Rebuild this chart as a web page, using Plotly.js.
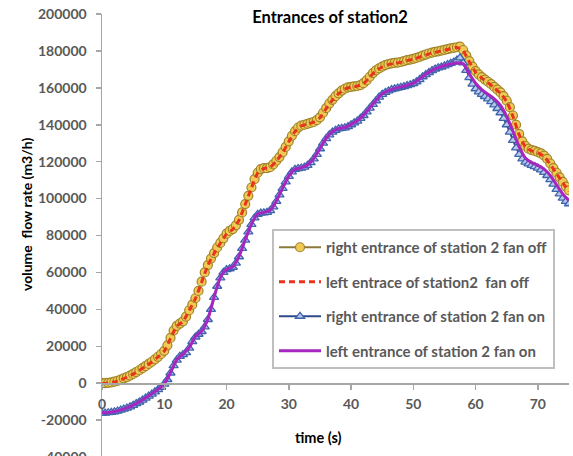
<!DOCTYPE html>
<html><head><meta charset="utf-8">
<script src="https://cdn.plot.ly/plotly-3.0.1.min.js"></script>
<style>html,body{margin:0;padding:0;overflow:hidden;background:#fff}#chart{width:573px;height:520px}</style>
</head><body><div id="chart"></div>
<script>
const timeHalf = [0,0.5,1,1.5,2,2.5,3,3.5,4,4.5,5,5.5,6,6.5,7,7.5,8,8.5,9,9.5,10,10.5,11,11.5,12,12.5,13,13.5,14,14.5,15,15.5,16,16.5,17,17.5,18,18.5,19,19.5,20,20.5,21,21.5,22,22.5,23,23.5,24,24.5,25,25.5,26,26.5,27,27.5,28,28.5,29,29.5,30,30.5,31,31.5,32,32.5,33,33.5,34,34.5,35,35.5,36,36.5,37,37.5,38,38.5,39,39.5,40,40.5,41,41.5,42,42.5,43,43.5,44,44.5,45,45.5,46,46.5,47,47.5,48,48.5,49,49.5,50,50.5,51,51.5,52,52.5,53,53.5,54,54.5,55,55.5,56,56.5,57,57.5,58,58.5,59,59.5,60,60.5,61,61.5,62,62.5,63,63.5,64,64.5,65,65.5,66,66.5,67,67.5,68,68.5,69,69.5,70,70.5,71,71.5,72,72.5,73,73.5,74,74.5,75];
const timeInt = [0,1,2,3,4,5,6,7,8,9,10,11,12,13,14,15,16,17,18,19,20,21,22,23,24,25,26,27,28,29,30,31,32,33,34,35,36,37,38,39,40,41,42,43,44,45,46,47,48,49,50,51,52,53,54,55,56,57,58,59,60,61,62,63,64,65,66,67,68,69,70,71,72,73,74,75];

const rightFanOff = [0,0,200,400,800,1300,1900,2600,3300,4100,
5000,6000,7000,8100,9200,10400,11600,12900,14300,15800,
17500,20500,24500,28500,31000,32300,33500,36000,39500,42500,
46000,50000,55000,60000,64000,67500,70500,73500,76000,78500,
81000,82500,83500,85500,88500,92500,97000,101500,106000,110500,
114000,116000,116500,116500,117000,118500,120500,122500,125000,128000,
131000,134000,136500,138500,139500,140000,140500,141000,141500,142500,
144000,146500,149000,151500,153500,155500,157000,158500,159500,160200,
160500,160800,161000,161500,162500,164000,166000,168000,169500,170500,
171500,172300,172800,173200,173500,173700,174000,174500,175000,175300,
175700,176200,176800,177500,178000,178600,179100,179500,179800,180200,
180600,181000,181400,181700,182000,182300,180500,177500,174500,171500,
169000,167300,165800,164500,163300,162000,160500,159000,157500,155500,
153000,149500,145000,140000,135000,131000,128500,127000,126300,125800,
125200,124500,123300,121500,119000,116500,114000,111500,109000,106500,
104500];

const rightFanOn = [-16200,-16200,-16000,-15800,-15500,-15100,-14600,-14100,-13500,-12800,
-12000,-11100,-10200,-9200,-8100,-7000,-5900,-4700,-3500,-2200,
-500,2000,5500,9500,12500,14500,15500,16500,19000,22500,
25000,26500,28000,30500,34500,40000,46500,52500,57000,60000,
61500,62000,62800,65000,68500,73000,77500,82000,86000,89500,
91500,92200,92300,92500,93500,95500,98500,102000,105500,109000,
112000,114500,115800,116300,116500,117000,118000,119500,121500,124000,
127000,130000,132500,134500,136000,137000,137800,138000,138300,139000,
140000,141000,142000,143500,145000,147000,149000,151000,153000,155000,
156500,157500,158300,159000,159500,159900,160300,160700,161200,161700,
162300,163300,164500,166000,167200,168300,169300,170200,170800,171300,
171900,172600,173300,174000,175000,176200,173500,169500,165500,162000,
159500,157800,156500,155300,154000,152500,150800,148800,146500,143500,
140000,136000,131500,127500,124000,121500,119800,118800,118000,117300,
116500,115500,114200,112500,110300,107800,105000,102500,100300,98500,
97200];

const leftFanOff = [-300,100,700,1800,3200,4900,6900,9100,11500,14200,
17300,24300,30800,33400,39300,45800,54700,63800,70300,75800,
80800,83400,88300,96800,105800,113800,116300,116900,120300,124800,
130800,136300,139300,140400,141400,143800,148800,153300,156800,159300,
160400,160900,162300,165800,169300,171300,172600,173300,173800,174800,
175500,176600,177800,178900,179600,180400,181200,181800,180000,174000,
168500,165300,162800,160000,157000,152500,144500,134500,128000,125800,
124800,122800,118500,113500,108500,104000];

const leftFanOn = [-16000,-15900,-15400,-14500,-13400,-11900,-10100,-8000,-5800,-3400,
-400,5700,12700,15700,19200,25200,28200,34700,46700,57200,
61700,63000,68700,77700,86200,91700,92500,93700,98700,105700,
112200,116000,116700,118200,121700,127200,132700,136200,138000,138500,
140200,142200,145200,149200,153200,156700,158500,159700,160500,161400,
162500,164700,167400,169500,171000,172100,172900,173500,173000,167500,
162500,159000,156500,154000,150500,144500,136500,128000,122000,119500,
118000,116000,112500,107500,102500,99000];

const seriesNames = ["right entrance of station 2 fan off","left entrace of station2  fan off","right entrance of station 2 fan on","left entrance of station 2 fan on"];
const xTicks = [0,10,20,30,40,50,60,70];
const yTicks = [-40000,-20000,0,20000,40000,60000,80000,100000,120000,140000,160000,180000,200000];
const yTickText = ["-40000","-20000","0","20000","40000","60000","80000","100000","120000","140000","160000","180000","200000"];

const FONT = "Lato, 'Open Sans', sans-serif";
const traces = [
  {x: timeHalf, y: rightFanOff, name: seriesNames[0], legendgroup: "a", mode: "lines+markers",
   line: {color: "#8C7A3C", width: 2},
   marker: {symbol: "circle", size: 9, color: "#F0CA55", line: {color: "#A0852B", width: 1.2}}},
  {x: timeInt, y: leftFanOff, name: seriesNames[1], legendgroup: "b", mode: "lines",
   line: {color: "#E8341C", width: 3, dash: "6px,4px", shape: "spline", smoothing: 0.6}},
  {x: timeHalf, y: rightFanOn, name: seriesNames[2], legendgroup: "c", mode: "lines+markers",
   line: {color: "#2F4A8C", width: 2},
   marker: {symbol: "triangle-up", size: 8, color: "#B8C9E8", line: {color: "#3F64AE", width: 1.3}}},
  {x: timeInt, y: leftFanOn, name: seriesNames[3], legendgroup: "d", mode: "lines",
   line: {color: "#A726C0", width: 3, shape: "spline", smoothing: 0.6}}
];

const axisFont = {family: FONT, size: 14, color: "#595959", weight: "bold"};
const layout = {
  width: 573, height: 520,
  margin: {l: 102, r: 4, t: 14, b: 63},
  paper_bgcolor: "#fff", plot_bgcolor: "#fff",
  showlegend: true,
  title: {text: "Entrances of station2", x: 0.576, xref: "container", xanchor: "center",
          y: 1 - 17/520, yref: "container", yanchor: "middle",
          font: {family: FONT, size: 16.5, color: "#000", weight: "bold"}},
  xaxis: {range: [0, 75], tickvals: xTicks, ticktext: xTicks.map(String), showgrid: false, zeroline: false,
          showline: true, linecolor: "#A6A6A6", linewidth: 1.5,
          ticks: "outside", ticklen: 5, tickcolor: "#A6A6A6", tickwidth: 1.5,
          tickfont: axisFont, anchor: "free", position: 40000/240000, ticklabelstandoff: 3},
  yaxis: {range: [-40000, 200000], tickvals: yTicks, ticktext: yTickText, showgrid: false, zeroline: false,
          showline: true, linecolor: "#A6A6A6", linewidth: 1.5,
          ticks: "outside", ticklen: 5, tickcolor: "#A6A6A6", tickwidth: 1.5,
          tickfont: axisFont, ticklabelstandoff: 6},
  legend: {x: (272-102)/467, y: (456-228)/443, xanchor: "left", yanchor: "top",
           bgcolor: "#fff", bordercolor: "#BFBFBF", borderwidth: 2, itemwidth: 42,
           font: {family: FONT, size: 15, color: "#595959", weight: "bold"},
           tracegroupgap: 12, traceorder: "grouped"},
  annotations: [
    {text: "volume  flow rate (m3/h)", xref: "paper", yref: "paper", x: (26-102)/467, y: (457-215)/443,
     xanchor: "center", yanchor: "middle", textangle: -90, showarrow: false,
     font: {family: FONT, size: 14, color: "#000", weight: "bold"}},
    {text: "time (s)", xref: "paper", yref: "paper", x: (318-102)/467, y: (457-437)/443,
     xanchor: "center", yanchor: "middle", showarrow: false,
     font: {family: FONT, size: 14.5, color: "#000", weight: "bold"}}
  ]
};
Plotly.newPlot("chart", traces, layout, {displayModeBar: false, staticPlot: true});
</script></body></html>
